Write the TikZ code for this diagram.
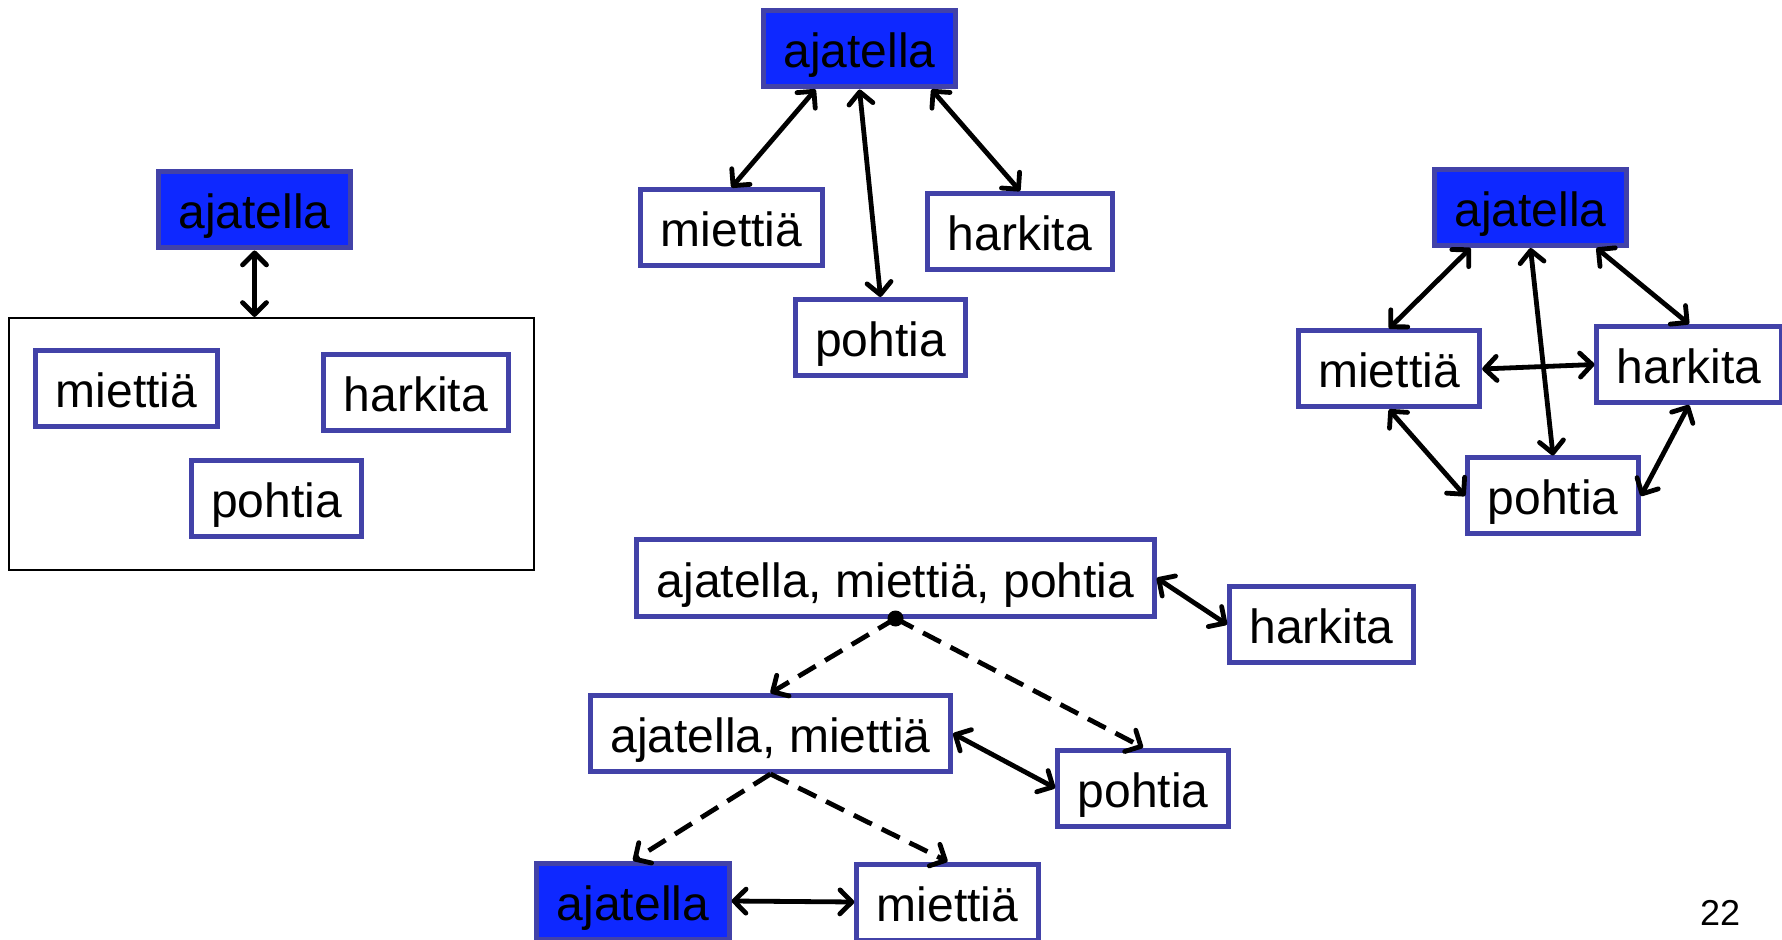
\documentclass[tikz,border=0pt]{standalone}
\usepackage{fontspec}
\setmainfont{Liberation Sans}
\usepackage{xcolor}
\usepackage{tikz}
\usetikzlibrary{arrows.meta, positioning, calc}
\definecolor{boxblue}{RGB}{66,66,168}
\definecolor{wordblue}{RGB}{14,40,255}

\begin{document}
\begin{tikzpicture}[x=0.5pt, y=-0.5pt,
  word/.style={draw=boxblue, line width=2.5pt, fill=white, rectangle, minimum height=38pt, inner xsep=10pt, inner ysep=2pt, text height=22pt, text depth=3pt, font=\fontsize{24}{28}\selectfont},
  headword/.style={word, fill=wordblue},
  link/.style={line width=2.4pt, <->, >={Straight Barb[length=6pt,width=12pt,round]}},
  split/.style={line width=2.4pt, ->, >={Straight Barb[length=6pt,width=12pt,round]}, dash pattern=on 10pt off 5.5pt}]
\useasboundingbox (0,0) rectangle (1782,940);

% left: one word and a group
\node[draw, line width=1pt, minimum width=262.5pt, minimum height=126pt] (lbox) at (271.5,444) {};
\node[headword] (la) at (254.5,210) {ajatella};
\node[word] (lm) at (126.5,388.5) {miettiä};
\node[word] (lh) at (416,393) {harkita};
\node[word] (lp) at (276.5,498.5) {pohtia};
\draw[link] (la.south) -- (la.south |- lbox.north);

% top: star
\node[headword] (ta) at (859.5,49) {ajatella};
\node[word] (tm) at (731.5,228) {miettiä};
\node[word] (th) at (1020,231.5) {harkita};
\node[word] (tp) at (880.5,337.5) {pohtia};
\draw[link] ([xshift=-22pt]ta.south) -- (tm.north);
\draw[link] (ta.south) -- (tp.north);
\draw[link] ([xshift=36pt]ta.south) -- (th.north);

% right: all pairs
\node[headword] (ra) at (1530.5,207.5) {ajatella};
\node[word] (rm) at (1389,369) {miettiä};
\node[word] (rh) at (1689,364.5) {harkita};
\node[word] (rp) at (1553,496) {pohtia};
\draw[link] ([xshift=-30pt]ra.south) -- (rm.north);
\draw[link] (ra.south) -- (rp.north);
\draw[link] ([xshift=33pt]ra.south) -- (rh.north);
\draw[link] (rm.east) -- (rh.west);
\draw[link] (rm.south) -- (rp.west);
\draw[link] (rh.south) -- (rp.east);

% bottom: tree
\node[word] (bamp) at (895.5,578) {ajatella, miettiä, pohtia};
\node[word] (bh) at (1321.5,624.5) {harkita};
\node[word] (bam) at (770.5,733.5) {ajatella, miettiä};
\node[word] (bp) at (1143,788) {pohtia};
\node[headword] (ba) at (633,901) {ajatella};
\node[word] (bm) at (947.5,902) {miettiä};
\coordinate (knot) at (bamp.south);
\fill (knot) circle (4pt);
\draw[link] (bamp.east) -- (bh.west);
\draw[split] (knot) -- (bam.north);
\draw[split] (knot) -- (bp.north);
\draw[link] (bam.east) -- (bp.west);
\draw[split] (bam.south) -- (ba.north);
\draw[split] (bam.south) -- (bm.north);
\draw[link] (ba.east) -- (bm.west);

\node[font=\fontsize{18}{22}\selectfont] (page) at (1720,913) {22};
\end{tikzpicture}
\end{document}
